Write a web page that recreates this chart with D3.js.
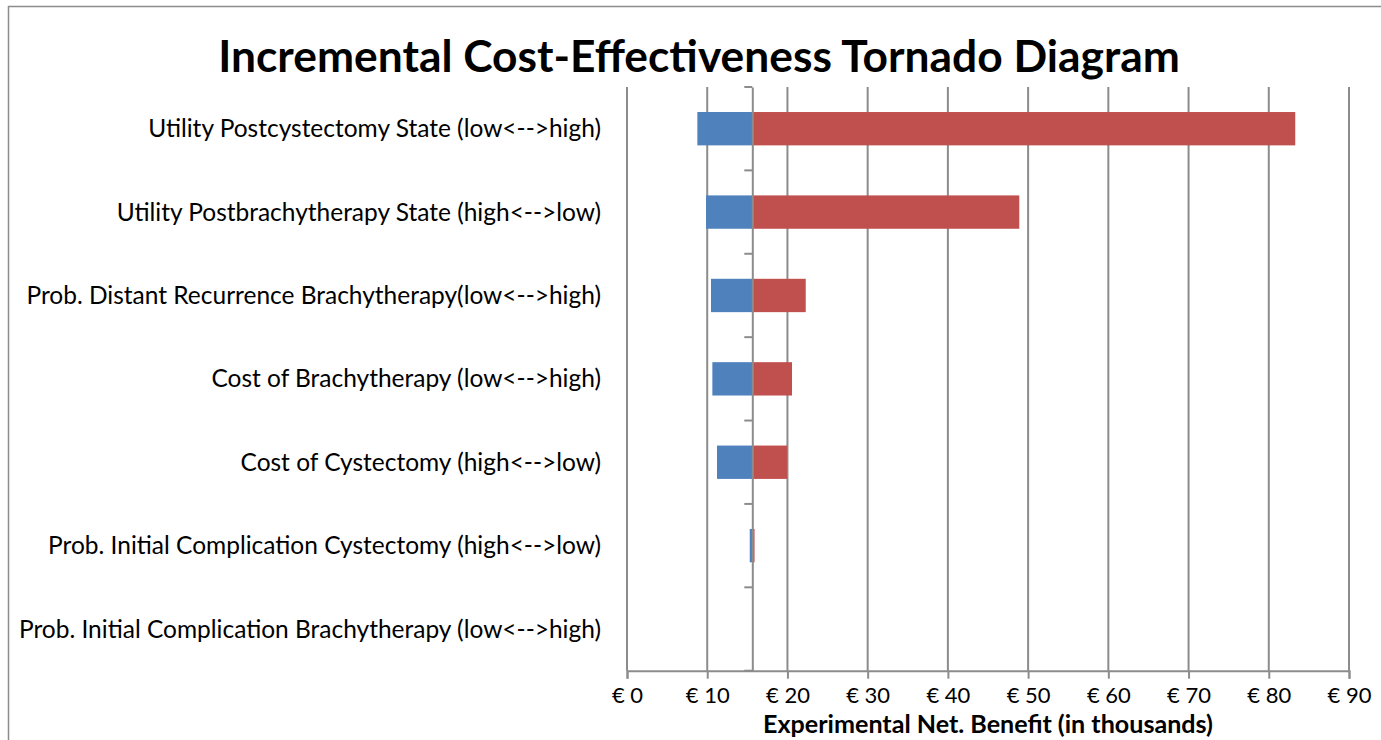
<!DOCTYPE html>
<html><head><meta charset="utf-8">
<script src="https://cdn.jsdelivr.net/npm/d3@7"></script>
<style>body{margin:0;background:#fff}svg{display:block}</style>
</head><body>
<svg id="c" width="1381" height="740"></svg>
<script>
const categories = [
  "Utility Postcystectomy State (low<-->high)",
  "Utility Postbrachytherapy State (high<-->low)",
  "Prob. Distant Recurrence Brachytherapy(low<-->high)",
  "Cost of Brachytherapy (low<-->high)",
  "Cost of Cystectomy (high<-->low)",
  "Prob. Initial Complication Cystectomy (high<-->low)",
  "Prob. Initial Complication Brachytherapy (low<-->high)"
];
const baseValue = 15.62;
const lowValues  = [8.77, 9.85, 10.47, 10.64, 11.22, 15.3, 15.62];
const highValues = [83.3, 48.9, 22.28, 20.57, 19.95, 15.9, 15.62];
const xTicks = [0,10,20,30,40,50,60,70,80,90];
const titleText = "Incremental Cost-Effectiveness Tornado Diagram";
const xTitle = "Experimental Net. Benefit (in thousands)";

const svg = d3.select("#c");
const font = "Lato, 'Open Sans', sans-serif";
const gridColor = "#8c8c8c";

function fit(sel, target, base){
  const w = sel.node().getComputedTextLength();
  sel.attr("font-size", base*target/w);
  return base*target/w;
}

// chart frame
svg.append("rect").attr("x",8.5).attr("y",6.5).attr("width",1400).attr("height",800)
  .attr("fill","#fff").attr("stroke","#8c8c8c").attr("stroke-width",1.5);

const x = d3.scaleLinear().domain([0,90]).range([627,1349]);
const y = d3.scaleBand().domain(categories).range([87,670.7]).padding(0);
const barH = y.bandwidth()*0.4;

// gridlines
svg.append("g").selectAll("line").data(xTicks).join("line")
  .attr("x1",d=>x(d)).attr("x2",d=>x(d)).attr("y1",87).attr("y2",670.7)
  .attr("stroke",gridColor).attr("stroke-width",2);

// bars
const g = svg.append("g");
categories.forEach((c,i)=>{
  const yc = y(c)+y.bandwidth()/2;
  g.append("rect").attr("x",x(lowValues[i])).attr("width",Math.max(0,x(baseValue)-x(lowValues[i])))
    .attr("y",yc-barH/2).attr("height",barH).attr("fill","#4F81BD");
  g.append("rect").attr("x",x(baseValue)).attr("width",Math.max(0,x(highValues[i])-x(baseValue)))
    .attr("y",yc-barH/2).attr("height",barH).attr("fill","#C0504D");
});

// x axis
const xAxis = d3.axisBottom(x).tickValues(xTicks).tickSize(8).tickPadding(9).tickFormat(d=>"€ "+d);
const ax = svg.append("g").attr("transform","translate(0,670.7)").call(xAxis);
ax.select(".domain").attr("stroke",gridColor).attr("stroke-width",2);
ax.selectAll(".tick line").attr("stroke",gridColor).attr("stroke-width",2);
ax.selectAll(".tick text").attr("font-family",font).attr("font-size",22).attr("fill","#000");

// vertical category axis at base value
const yAxis = d3.axisLeft(y).tickSize(0).tickFormat("");
const ay = svg.append("g").attr("transform",`translate(${x(baseValue)},0)`).call(yAxis);
ay.select(".domain").attr("stroke",gridColor).attr("stroke-width",2);
const bounds = categories.map(c=>y(c)).concat([670.7]);
ay.selectAll("line.bt").data(bounds).join("line").attr("class","bt")
  .attr("x1",-8).attr("x2",0).attr("y1",d=>d).attr("y2",d=>d)
  .attr("stroke",gridColor).attr("stroke-width",2);

// category labels
const labs = svg.append("g").selectAll("text").data(categories).join("text")
  .attr("x",601).attr("y",d=>y(d)+y.bandwidth()/2).attr("dy","0.35em")
  .attr("text-anchor","end").attr("font-family",font).attr("font-size",21).attr("fill","#000")
  .text(d=>d);
const ls = fit(d3.select(labs.nodes()[0]), 453, 21);
labs.attr("font-size", ls);

// title
const t = svg.append("text").attr("x",699).attr("y",72).attr("text-anchor","middle")
  .attr("font-family",font).attr("font-weight","bold").attr("font-size",40).attr("fill","#000")
  .text(titleText);
fit(t, 962, 40);

// x title
const xt = svg.append("text").attr("x",988).attr("y",733).attr("text-anchor","middle")
  .attr("font-family",font).attr("font-weight","bold").attr("font-size",20).attr("fill","#000")
  .text(xTitle);
fit(xt, 450, 20);
</script>
</body></html>
